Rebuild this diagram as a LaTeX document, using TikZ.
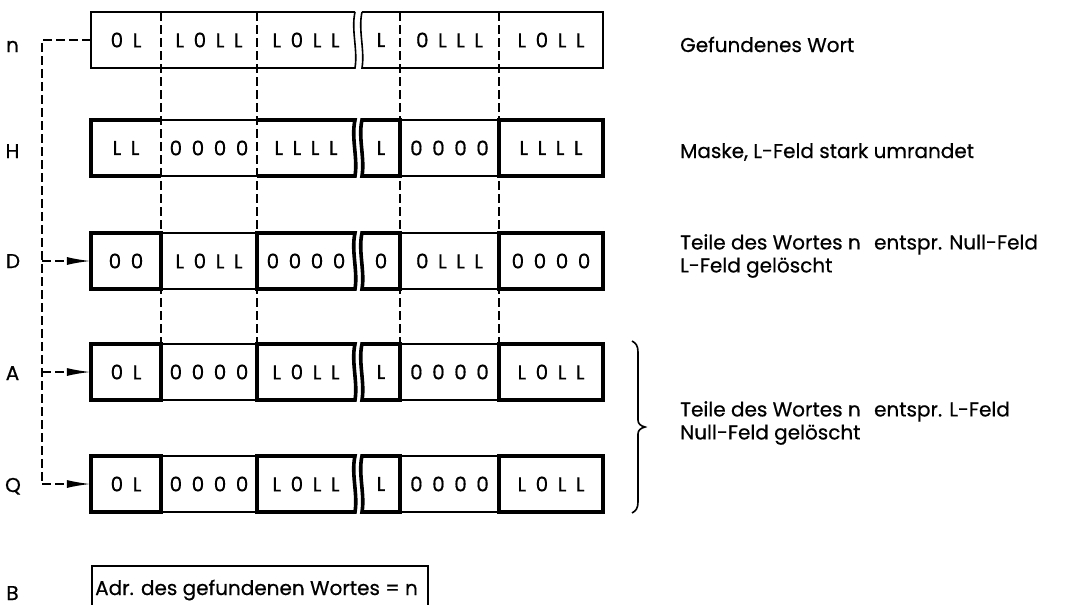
\documentclass[tikz,border=0pt]{standalone}
\usepackage{fontspec}
\setmainfont{Poppins}[FakeBold=0.6]
\usetikzlibrary{arrows.meta}
\newcommand\gp{\hspace{9.5pt}}
\newcommand\rowcells[8]{%
  \node[cell, minimum width=70pt]  (#1a) at (126,#2)   {#3};
  \node[cell, minimum width=96pt]  (#1b) at (209,#2)   {#4};
  \node[cell, minimum width=98pt]  (#1c) at (306,#2)   {#5};
  \node[cell, minimum width=38pt]  (#1d) at (381,#2)   {#6};
  \node[cell, minimum width=99pt]  (#1e) at (449.5,#2) {#7};
  \node[cell, minimum width=104pt] (#1f) at (551,#2)   {#8};
}
% full row with thick L-fields (D, A, Q)
\newcommand\maskrow[1]{%
  \pgfmathsetmacro\tp{#1-28}\pgfmathsetmacro\bt{#1+28}
  \draw[thinln] (161,\tp) -- (257,\tp) (161,\bt) -- (257,\bt)
                (400,\tp) -- (499,\tp) (400,\bt) -- (499,\bt);
  \draw[thickln] (91,\tp) -- (161,\tp) -- (161,\bt) -- (91,\bt) -- cycle;
  \draw[thickln] (355,\tp) -- (257,\tp) -- (257,\bt) -- (355,\bt)
     .. controls (358,\bt-18) and (351,\tp+18) .. (355,\tp) -- cycle;
  \draw[thickln] (362,\tp) -- (400,\tp) -- (400,\bt) -- (362,\bt)
     .. controls (365,\bt-18) and (358,\tp+18) .. (362,\tp) -- cycle;
  \draw[thickln] (499,\tp) -- (603,\tp) -- (603,\bt) -- (499,\bt) -- cycle;
}
\begin{document}
\begin{tikzpicture}[x=1pt,y=-1pt,
  thinln/.style={line width=1.6pt},
  thickln/.style={line width=3.6pt},
  dashln/.style={line width=1.6pt, dash pattern=on 9pt off 4pt},
  cell/.style={inner sep=0pt, minimum height=56pt, font=\fontsize{20}{23}\selectfont},
  rowlbl/.style={inner sep=0pt, anchor=base, font=\fontsize{20}{23}\selectfont},
  desc/.style={inner sep=0pt, anchor=base west, font=\fontsize{20}{23}\selectfont},
  tip/.style={-{Latex[length=24pt,width=8pt]}}
]
\useasboundingbox (0,0) rectangle (1072,605);

% cells
\rowcells{n}{40}{0\gp L}{L\gp 0\gp L\gp L}{L\gp 0\gp L\gp L}{L}{0\gp L\gp L\gp L}{L\gp 0\gp L\gp L}
\rowcells{h}{148}{L\gp L}{0\gp 0\gp 0\gp 0}{L\gp L\gp L\gp L}{L}{0\gp 0\gp 0\gp 0}{L\gp L\gp L\gp L}
\rowcells{d}{261}{0\gp 0}{L\gp 0\gp L\gp L}{0\gp 0\gp 0\gp 0}{0}{0\gp L\gp L\gp L}{0\gp 0\gp 0\gp 0}
\rowcells{a}{372}{0\gp L}{0\gp 0\gp 0\gp 0}{L\gp 0\gp L\gp L}{L}{0\gp 0\gp 0\gp 0}{L\gp 0\gp L\gp L}
\rowcells{q}{484}{0\gp L}{0\gp 0\gp 0\gp 0}{L\gp 0\gp L\gp L}{L}{0\gp 0\gp 0\gp 0}{L\gp 0\gp L\gp L}

% dashed column lines
\foreach \xx in {161,257,400,499}
  \draw[dashln] (\xx,12) -- (\xx,344);

% n row (thin)
\draw[thinln] (355,12) -- (91,12) -- (91,68) -- (355,68)
   .. controls (358,50) and (351,30) .. (355,12);
\draw[thinln] (362,12) -- (603,12) -- (603,68) -- (362,68)
   .. controls (365,50) and (358,30) .. (362,12);

% H row
\draw[thinln] (161,120) -- (257,120) (161,176) -- (257,176)
              (400,120) -- (499,120) (400,176) -- (499,176);
\draw[thickln] (161,120) -- (91,120) -- (91,176) -- (161,176);
\draw[thickln] (257,120) -- (355,120)
   .. controls (351,138) and (358,158) .. (355,176) -- (257,176);
\draw[thickln] (362,120) -- (400,120) -- (400,176) -- (362,176)
   .. controls (365,158) and (358,138) .. (362,120) -- cycle;
\draw[thickln] (499,120) -- (603,120) -- (603,176) -- (499,176) -- cycle;

% D, A, Q rows
\maskrow{261}
\maskrow{372}
\maskrow{484}

% left connector
\coordinate (vtop) at (42,40);
\coordinate (vd) at (vtop |- da.west);
\coordinate (va) at (vtop |- aa.west);
\coordinate (vq) at (vtop |- qa.west);
\draw[dashln] (na.west) -- (vtop) -- (vq);
\draw[dashln, tip] (vq) -- (qa.west);
\draw[dashln, tip] (vd) -- (da.west);
\draw[dashln, tip] (va) -- (aa.west);

% row labels
\node[rowlbl] (ln) at (12.5,52) {n};
\node[rowlbl] (lh) at (12.5,158) {H};
\node[rowlbl] (ld) at (13,268) {D};
\node[rowlbl] (la) at (12.5,380) {A};
\node[rowlbl] (lq) at (13,492) {Q};
\node[rowlbl] (lb) at (12.5,600) {B};

% descriptions
\node[desc] (t1) at (680,52) {Gefundenes Wort};
\node[desc] (t2) at (680,158) {Maske, L-Feld stark umrandet};
\node[desc, align=left, anchor=north west] (t3) at (680,234)
  {Teile des Wortes n\hspace{0.4em} entspr. Null-Feld\\L-Feld gelöscht};
\node[desc, align=left, anchor=north west] (t4) at (680,401)
  {Teile des Wortes n\hspace{0.4em} entspr. L-Feld\\Null-Feld gelöscht};

% brace
\draw[thinln] (632,341) .. controls (636,343) and (638,346) .. (638,352)
   -- (638,420) .. controls (638,424) and (641,426) .. (645,427)
   .. controls (641,428) and (638,430) .. (638,434)
   -- (638,502) .. controls (638,508) and (636,511) .. (632,513);

% bottom box
\draw[thinln] (92,607) -- (92,566) -- (428,566) -- (428,607);
\node[desc] (adr) at (95,595) {Adr. des gefundenen Wortes = n};
\end{tikzpicture}
\end{document}
